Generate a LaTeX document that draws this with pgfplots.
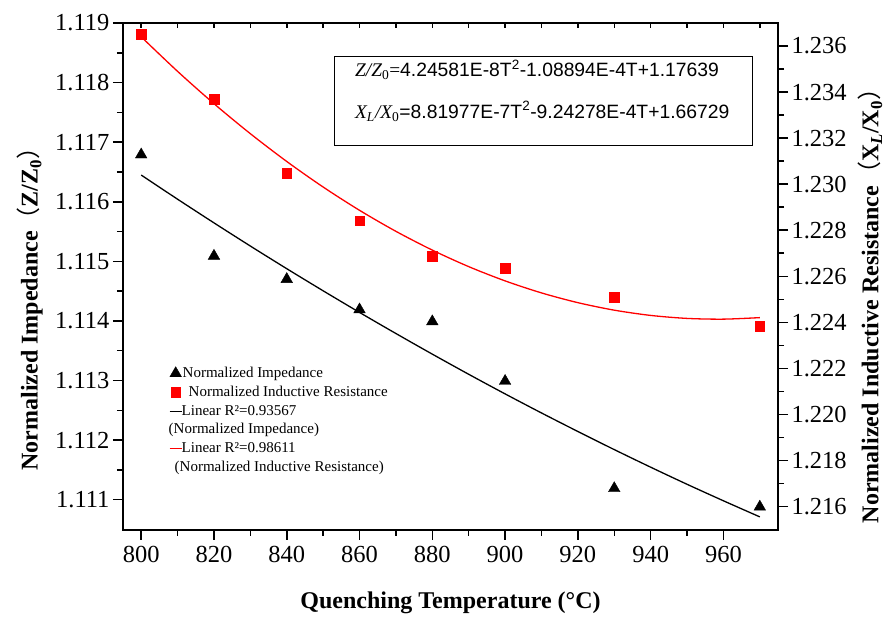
\documentclass[border=0pt]{standalone}
\usepackage{pgfplots}
\pgfplotsset{compat=1.18}
\usepackage{fontspec}
\setmainfont{Liberation Serif}
\newfontfamily\sans{Liberation Sans}
\newfontfamily\cjk{Noto Sans CJK SC}

\pgfplotsset{
  base/.style={
    scale only axis, width=655pt, height=506.5pt,
    xmin=795, xmax=975,
    tick label style={font=\fontsize{24.5}{24.5}\selectfont},
    /pgf/number format/assume math mode=true,
    axis line style={line width=2pt},
    every tick/.style={black, line width=1.5pt},
    major tick length=10pt, minor tick length=6pt,
    tick align=outside,
    scaled ticks=false,
  },
  threedec/.style={/pgf/number format/.cd, fixed, fixed zerofill, precision=3},
  markleg/.style={legend image code/.code={\draw[##1] plot coordinates {(6pt,0pt)};}},
  lineleg/.style={legend image code/.code={\draw[##1] (0pt,0pt) -- (12pt,0pt);}},
}

\begin{document}
\begin{tikzpicture}
\useasboundingbox (-123pt,-89.5pt) rectangle (762pt,529.5pt);

% left axis: normalized impedance
\begin{axis}[base,
  ymin=1.1105, ymax=1.119,
  xtick={800,820,840,860,880,900,920,940,960}, minor x tick num=1,
  ytick={1.111,1.112,1.113,1.114,1.115,1.116,1.117,1.118,1.119},
  minor y tick num=1,
  xtick pos=left, ytick pos=left,
  yticklabel style={threedec},
  xticklabel style={yshift=-3pt},
  xlabel={Quenching Temperature (°C)},
  xlabel style={at={(axis description cs:0.5,-0.145)}, anchor=center,
    font=\bfseries\fontsize{24}{24}\selectfont},
  ylabel={Normalized Impedance{\cjk\mdseries （}Z/Z\textsubscript{0}{\cjk\mdseries ）}},
  ylabel style={at={(axis description cs:-0.142,0.447)}, anchor=center,
    font=\bfseries\fontsize{24}{24}\selectfont},
]
\addplot[only marks, mark=triangle*, mark size=6.7pt, black] coordinates {
  (800,1.11679) (820,1.11509) (840,1.11470) (860,1.11419)
  (880,1.11399) (900,1.11299) (930,1.11119) (970,1.11088)
};
% fitted curve (values from the printed equation)
\addplot[black, line width=1.3pt, smooth] coordinates {
  (800,1.116448) (810,1.116043) (820,1.115646) (830,1.115257) (840,1.114877)
  (850,1.114506) (860,1.114143) (870,1.113789) (880,1.113443) (890,1.113105)
  (900,1.112776) (910,1.112456) (920,1.112145) (930,1.111841) (940,1.111546)
  (950,1.111259) (960,1.110982) (970,1.110712)
};
\end{axis}

% top ticks, pointing in
\begin{axis}[base, ymin=0, ymax=1, hide y axis, axis x line*=top,
  xtick={800,810,...,970}, xticklabels={}, tick align=inside,
  major tick length=5pt]
\end{axis}

% right axis: normalized inductive resistance
\begin{axis}[base,
  ymin=1.215, ymax=1.237,
  axis y line*=right, hide x axis,
  ytick={1.216,1.218,1.220,1.222,1.224,1.226,1.228,1.230,1.232,1.234,1.236},
  minor y tick num=1,
  yticklabel style={threedec},
  ylabel={Normalized Inductive Resistance{\cjk\mdseries （}X\textsubscript{\textit{L}}/X\textsubscript{0}{\cjk\mdseries ）}},
  ylabel style={at={(axis description cs:1.1405,0.453)}, anchor=center,
    font=\bfseries\fontsize{24}{24}\selectfont},
  legend style={at={(rel axis cs:0.0702,0.3234)}, anchor=north west,
    draw=none, fill=none, inner sep=0pt, row sep=3.8pt, column sep=0pt,
    font=\fontsize{15}{15}\selectfont,
    nodes={inner sep=0.5pt, text height=11pt, text depth=3pt}},
  legend cell align=left,
]
\addplot[only marks, mark=square*, mark size=4.8pt, red, forget plot] coordinates {
  (800,1.23652) (820,1.23370) (840,1.23047) (860,1.22841)
  (880,1.22688) (900,1.22634) (930,1.22508) (970,1.22384)
};
\addplot[red, line width=1.3pt, smooth, forget plot] coordinates {
  (800,1.236400) (810,1.234899) (820,1.233496) (830,1.232192) (840,1.230985)
  (850,1.229875) (860,1.228864) (870,1.227951) (880,1.227136) (890,1.226418)
  (900,1.225799) (910,1.225277) (920,1.224853) (930,1.224527) (940,1.224299)
  (950,1.224169) (960,1.224137) (970,1.224203)
};

\addlegendimage{black, only marks, mark=triangle*, mark size=6.7pt, markleg}
\addlegendentry{Normalized Impedance}
\addlegendimage{red, only marks, mark=square*, mark size=4.8pt, markleg}
\addlegendentry{\hspace*{6pt}Normalized Inductive Resistance}
\addlegendimage{black, line width=1pt, lineleg}
\addlegendentry{\hspace*{-1pt}Linear R²=0.93567}
\addlegendimage{empty legend}
\addlegendentry{\hspace*{-14pt}(Normalized Impedance)}
\addlegendimage{red, line width=1pt, lineleg}
\addlegendentry{\hspace*{-1pt}Linear R²=0.98611}
\addlegendimage{empty legend}
\addlegendentry{\hspace*{-8pt}(Normalized Inductive Resistance)}

% equation box
\draw[line width=0.9pt] (rel axis cs:0.3221,0.9348) rectangle (rel axis cs:0.9603,0.7591);
\node[anchor=base west, inner sep=0pt, font=\sans\fontsize{19.3}{19.3}\selectfont]
  at (rel axis cs:0.3542,0.894)
  {{\rmfamily\itshape Z/Z}{\rmfamily\textsubscript{0}=}4.24581E-8T\textsuperscript{2}-1.08894E-4T+1.17639};
\node[anchor=base west, inner sep=0pt, font=\sans\fontsize{19.3}{19.3}\selectfont]
  at (rel axis cs:0.3542,0.8119)
  {{\rmfamily\itshape X\textsubscript{L}/X}{\rmfamily\textsubscript{0}}=8.81977E-7T\textsuperscript{2}-9.24278E-4T+1.66729};
\end{axis}
\end{tikzpicture}
\end{document}
